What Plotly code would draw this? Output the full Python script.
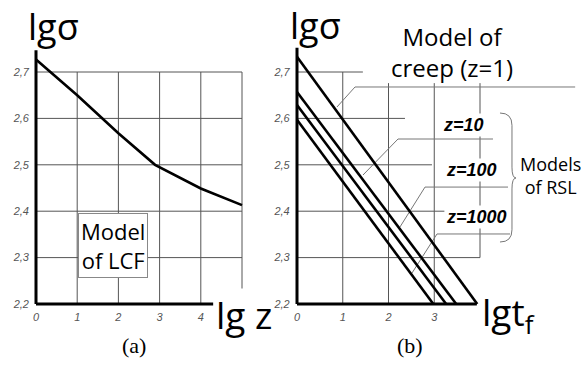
import plotly.graph_objects as go

# ---- data -------------------------------------------------------------
# (a) low-cycle fatigue model: lg(sigma) versus lg(z)
lcf_lgz = [0, 1, 2, 2.89, 4, 5]
lcf_lgsigma = [2.727, 2.650, 2.568, 2.500, 2.449, 2.413]

# (b) creep (z=1) and RSL models: straight lines lg(sigma) versus lg(t_f)
rsl_names = ["z=1", "z=10", "z=100", "z=1000"]
rsl_lgsigma_at_t0 = [2.733, 2.657, 2.629, 2.597]   # value at lg t_f = 0
rsl_lgt_at_base = [3.94, 3.48, 3.26, 2.98]         # lg t_f where lg sigma = 2.2
base_lgsigma = 2.2

y_tickvals = [2.2, 2.3, 2.4, 2.5, 2.6, 2.7]
y_ticktext = ["2,2", "2,3", "2,4", "2,5", "2,6", "2,7"]
a_xtickvals = [0, 1, 2, 3, 4]
b_xtickvals = [0, 1, 2, 3]

# ---- geometry ---------------------------------------------------------
W, H = 581, 367
Y_BASE_PX, Y_PX_PER_UNIT = 304, 464
Y_RANGE = [2.19, 2.76]
A_X0_PX, A_PX_PER_UNIT, A_RANGE = 36, 41.2, [-0.05, 5.1]
B_X0_PX, B_PX_PER_UNIT, B_RANGE = 297, 45.75, [-0.05, 6.1]


def x_domain(x0_px, ppu, rng):
    return [(x0_px + rng[0] * ppu) / W, (x0_px + rng[1] * ppu) / W]


def y_domain():
    bottom = Y_BASE_PX - (Y_RANGE[0] - 2.2) * Y_PX_PER_UNIT
    top = Y_BASE_PX - (Y_RANGE[1] - 2.2) * Y_PX_PER_UNIT
    return [1 - bottom / H, 1 - top / H]


GRID = "#555555"
LEADER = "#777777"
TEXT_FONT = "Open Sans, Noto Sans, sans-serif"
TICK_FONT = dict(family="Liberation Sans Narrow, Liberation Sans, sans-serif",
                 size=11, color="#555555", style="italic")

fig = go.Figure()

# ---- traces -----------------------------------------------------------
fig.add_trace(go.Scatter(x=lcf_lgz, y=lcf_lgsigma, mode="lines",
                         line=dict(color="black", width=2.6),
                         xaxis="x", yaxis="y", showlegend=False,
                         hoverinfo="skip"))
for name, s0, t_end in zip(rsl_names, rsl_lgsigma_at_t0, rsl_lgt_at_base):
    fig.add_trace(go.Scatter(x=[0, t_end], y=[s0, base_lgsigma], mode="lines",
                             name=name, line=dict(color="black", width=2.6),
                             xaxis="x2", yaxis="y2", showlegend=False,
                             hoverinfo="skip"))

shapes = []


def seg(x0, y0, x1, y1, xr, yr, color=GRID, width=1):
    shapes.append(dict(type="line", x0=x0, y0=y0, x1=x1, y1=y1,
                       xref=xr, yref=yr, layer="below",
                       line=dict(color=color, width=width)))


# grid (a): full mesh
for v in y_tickvals[1:]:
    seg(0, v, 5, v, "x", "y")
for u in [1, 2, 3, 4, 5]:
    seg(u, 2.2, u, 2.7, "x", "y")
# axes (a)
seg(0, 2.2, 0, 2.747, "x", "y", "black", 3)
seg(0, 2.2, 4.3, 2.2, "x", "y", "black", 3)

# grid (b): partial mesh
for v, xe in zip([2.7, 2.6, 2.5, 2.4, 2.3], [1.44, 2.36, 2.95, 3.23, 4.0]):
    seg(0, v, xe, v, "x2", "y2")
seg(1, 2.2, 1, 2.7, "x2", "y2")
seg(2, 2.2, 2, 2.676, "x2", "y2")
seg(3, 2.2, 3, 2.676, "x2", "y2")
seg(4, 2.3, 4, 2.676, "x2", "y2")
# axes (b)
seg(0, 2.2, 0, 2.752, "x2", "y2", "black", 3)
seg(0, 2.2, 3.93, 2.2, "x2", "y2", "black", 3)

# leader lines (b)
leaders = [
    [(0.874, 2.6246), (1.268, 2.6677), (6.08, 2.6677)],
    [(1.443, 2.478), (2.208, 2.5556), (4.284, 2.5556)],
    [(2.251, 2.366), (2.798, 2.452), (4.612, 2.452)],
    [(2.514, 2.2668), (3.06, 2.3509), (4.656, 2.3509)],
]
for pts in leaders:
    path = "M " + " L ".join(f"{x},{y}" for x, y in pts)
    shapes.append(dict(type="path", path=path, xref="x2", yref="y2",
                       layer="below", line=dict(color=LEADER, width=1)))

# brace grouping the RSL labels
shapes.append(dict(
    type="path", xref="x2", yref="y2", layer="above",
    path=("M 4.437,2.6116 Q 4.699,2.6116 4.699,2.585 L 4.699,2.495 "
          "Q 4.699,2.4716 4.787,2.4716 Q 4.699,2.4716 4.699,2.448 "
          "L 4.699,2.36 Q 4.699,2.3336 4.437,2.3336"),
    line=dict(color="#777777", width=1)))

# ---- annotations ------------------------------------------------------
ann = []


def label(text, x, y, xr, yr, size, family=TEXT_FONT, **kw):
    d = dict(text=text, x=x, y=y, xref=xr, yref=yr, showarrow=False,
             xanchor="center", yanchor="middle",
             font=dict(family=family, size=size, color="black"))
    d.update(kw)
    ann.append(d)


def page_label(text, px, py, size, family=TEXT_FONT, **kw):
    # position given in page pixels, converted to paper fractions
    label(text, px / W, 1 - py / H, "paper", "paper", size, family, **kw)


page_label("lgσ", 53.5, 26, 36, borderpad=0)
page_label("lg z", 243.5, 314, 37, bgcolor="white", borderpad=0)
page_label("(a)", 134, 345, 22, family="Liberation Serif, serif")
label("Model<br>of LCF", 1.857, 2.326, "x", "y", 22, bgcolor="white",
      bordercolor="#888888", borderwidth=1, borderpad=2)

page_label("lgσ", 315, 25, 36, borderpad=0)
page_label("lgt<sub>f</sub>", 508, 314, 37)
page_label("(b)", 409.5, 345, 22, family="Liberation Serif, serif")
label("Model of<br>creep (z=1)", 3.39, 2.743, "x2", "y2", 24)
z_font = "Liberation Sans Narrow, Liberation Sans, sans-serif"
for name, x, y in zip(rsl_names[1:], [3.65, 3.81, 3.92], [2.586, 2.489, 2.3875]):
    ann.append(dict(text=f"<i>{name}</i>", x=x, y=y, xref="x2", yref="y2",
                    showarrow=False, xanchor="center", yanchor="middle",
                    bgcolor="white", borderpad=1,
                    font=dict(family=z_font, size=18, color="black",
                              weight="bold")))
label("Models<br>of RSL", 5.55, 2.478, "x2", "y2", 18)

axis_common = dict(showgrid=False, zeroline=False, showline=False, ticks="",
                   tickfont=TICK_FONT, fixedrange=True)

fig.update_layout(
    width=W, height=H,
    margin=dict(l=0, r=0, t=0, b=0),
    paper_bgcolor="white", plot_bgcolor="white",
    showlegend=False,
    xaxis=dict(domain=x_domain(A_X0_PX, A_PX_PER_UNIT, A_RANGE), range=A_RANGE,
               tickvals=a_xtickvals, anchor="y", **axis_common),
    yaxis=dict(domain=y_domain(), range=Y_RANGE, tickvals=y_tickvals,
               ticktext=y_ticktext, anchor="x", ticklabelstandoff=4,
               **axis_common),
    xaxis2=dict(domain=x_domain(B_X0_PX, B_PX_PER_UNIT, B_RANGE), range=B_RANGE,
                tickvals=b_xtickvals, anchor="y2", **axis_common),
    yaxis2=dict(domain=y_domain(), range=Y_RANGE, tickvals=y_tickvals,
                ticktext=y_ticktext, anchor="x2", ticklabelstandoff=4,
                **axis_common),
    shapes=shapes,
    annotations=ann,
)

fig.write_html("out.html", config=dict(displayModeBar=False))
